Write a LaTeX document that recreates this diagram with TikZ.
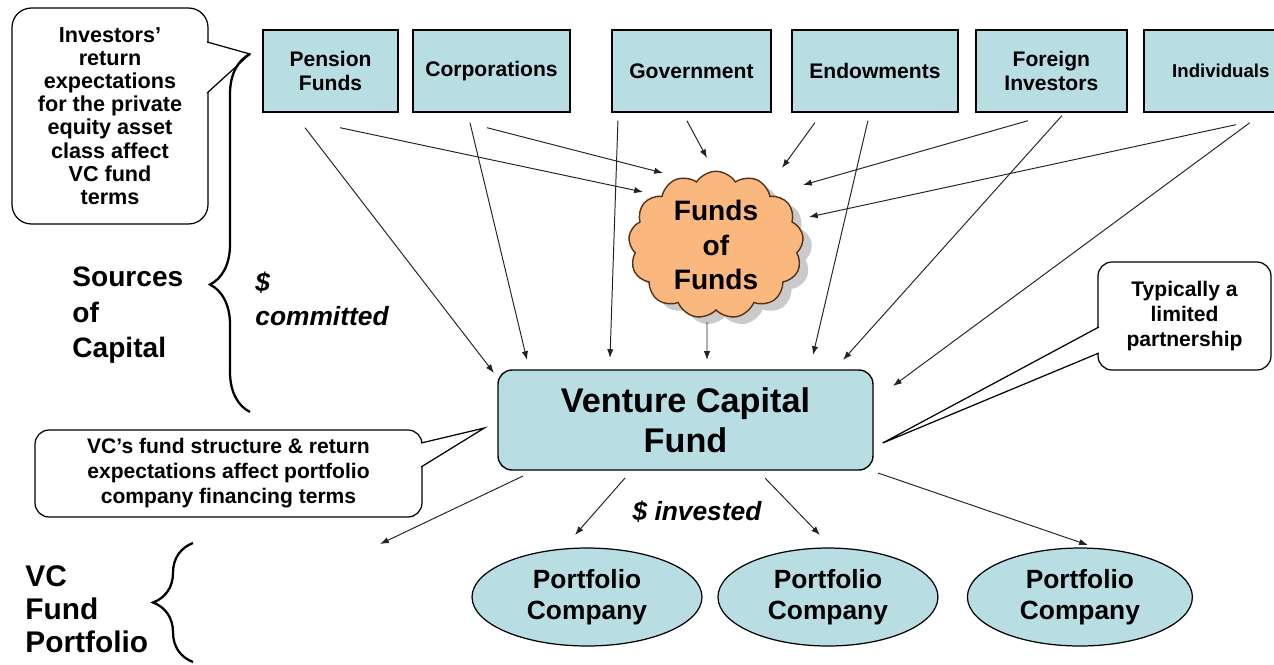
\documentclass[tikz,border=0pt]{standalone}
\usepackage{fontspec}
\setmainfont{Liberation Sans}
\usetikzlibrary{shapes.geometric, shapes.symbols, arrows.meta, decorations.pathreplacing, shadows}
\definecolor{boxblue}{RGB}{184,222,228}
\definecolor{cloudfill}{RGB}{250,184,126}
\definecolor{cloudline}{RGB}{85,50,25}
\definecolor{linegray}{RGB}{35,35,35}
\tikzstyle{source} = [rectangle, minimum height=1.64cm, inner sep=2pt, align=center, draw=black, line width=0.8pt, fill=boxblue, font={\fontsize{12}{13.6}\selectfont\bfseries}]
\tikzstyle{fund} = [rectangle, rounded corners=8pt, minimum width=7.5cm, minimum height=2cm, align=center, draw=black, line width=0.8pt, fill=boxblue, font={\fontsize{19.5}{22.7}\selectfont\bfseries}]
\tikzstyle{company} = [ellipse, minimum height=1.96cm, inner sep=1pt, align=center, draw=black, line width=0.7pt, fill=boxblue, font={\fontsize{15}{18}\selectfont\bfseries}]
\tikzstyle{fundsof} = [cloud, cloud puffs=13, cloud puff arc=115, cloud ignores aspect, minimum width=3.5cm, minimum height=2.95cm, inner sep=0pt, align=center, draw=cloudline, line width=0.8pt, fill=cloudfill, drop shadow={shadow xshift=5pt, shadow yshift=-4pt, fill=black!35, opacity=0.6}, font={\fontsize{16}{19.8}\selectfont\bfseries}]
\tikzstyle{note} = [rectangle, rounded corners=8pt, align=center, draw=black, line width=0.7pt, fill=white, font={\fontsize{12}{14.2}\selectfont\bfseries}]
\tikzstyle{pointer} = [draw=black, line width=0.7pt, fill=white, line join=miter]
\tikzstyle{heading} = [align=left, inner sep=0pt, anchor=north west, font={\fontsize{16}{20}\selectfont\bfseries}]
\tikzstyle{flow} = [align=left, inner sep=0pt, anchor=north west, font={\fontsize{15}{19.3}\selectfont\bfseries\itshape}]
\tikzstyle{bracket} = [decorate, decoration={brace, amplitude=0.8cm}, line width=1.3pt]
\tikzstyle{arrow} = [draw=linegray, line width=0.55pt, -{Latex[length=5pt,width=3.6pt]}]

\begin{document}
\begin{tikzpicture}[x=0.02cm, y=-0.02cm, node distance=1cm]
	\useasboundingbox (0,0) rectangle (1274,664);
	
	% investors along the top
	\node (pf) [source, minimum width=2.7cm] at (330.5,71) {Pension\\Funds};
	\node (corp) [source, minimum width=3.14cm, right of=pf, xshift=2.22cm] {Corporations};
	\node (gov) [source, minimum width=3.18cm, right of=corp, xshift=3cm] {Government};
	\node (endow) [source, minimum width=3.32cm, right of=gov, xshift=2.67cm] {Endowments};
	\node (foreign) [source, minimum width=3.02cm, right of=endow, xshift=2.53cm] {Foreign\\Investors};
	\node (indiv) [source, minimum width=3.08cm, right of=foreign, xshift=2.39cm, font={\fontsize{10.6}{13.6}\selectfont\bfseries}] {Individuals};
	
	\node (fof) [fundsof] at (716,245) {Funds\\of\\Funds};
	\node (vc) [fund] at (685.5,420) {Venture Capital\\Fund};
	
	\node (p1) [company, minimum width=4.6cm] at (587,597) {Portfolio\\Company};
	\node (p2) [company, minimum width=4.4cm, right of=p1, xshift=3.82cm] {Portfolio\\Company};
	\node (p3) [company, minimum width=4.5cm, right of=p2, xshift=4.04cm] {Portfolio\\Company};
	
	% side labels
	\node (src) [heading] at (72,267) {Sources\\of\\Capital};
	\node (cmt) [flow] at (255,272) {\$\\committed};
	\node (invested) [flow, anchor=center] at (697,512) {\$ invested};
	\node (vcp) [heading, font={\fontsize{17}{19}\selectfont\bfseries}] at (25,565) {VC\\Fund\\Portfolio};
	
	% callouts
	\node (expect) [note, rounded corners=11pt, minimum width=3.92cm, minimum height=4.32cm, font={\fontsize{12.3}{13.2}\selectfont\bfseries}] at (110,116) {Investors’\\return\\expectations\\for the private\\equity asset\\class affect\\VC fund\\terms};
	\node (terms) [note, minimum width=7.74cm, minimum height=1.74cm] at (228.5,473.5) {VC’s fund structure \& return\\expectations affect portfolio\\company financing terms};
	\node (lp) [note, minimum width=3.46cm, minimum height=2.16cm] at (1184.5,316) {Typically a\\limited\\partnership};
	
	\coordinate (expecttip) at (250,54);
	\draw [pointer] ([shift={(-1.5,-74)}]expect.east) -- (expecttip) -- ([shift={(-1.5,-23)}]expect.east);
	\draw [pointer] ([shift={(-1.5,-30.5)}]terms.east) -- ([shift={(-13,8)}]vc.west) -- ([shift={(-1.5,-6.5)}]terms.east);
	\draw [pointer] ([shift={(1.5,11)}]lp.west) -- ([shift={(9,23)}]vc.east) -- ([shift={(1.5,37)}]lp.west);
	
	% braces
	\coordinate (srcbot) at (250,412);
	\draw [bracket, decoration={aspect=0.356}] (srcbot) -- (expecttip);
	\coordinate (vcpbot) at (193,662);
	\coordinate (vcptop) at (193,543);
	\draw [bracket] (vcpbot) -- (vcptop);
	
	% money into the funds of funds
	\draw [arrow] ([shift={(9.5,15)}]pf.south) -- ([shift={(-73,-53)}]fof.center);
	\draw [arrow] ([shift={(-4.5,15)}]corp.south) -- ([shift={(-53,-72)}]fof.center);
	\draw [arrow] ([shift={(-4.5,8)}]gov.south) -- ([shift={(-9,-87)}]fof.center);
	\draw [arrow] ([shift={(-60,10)}]endow.south) -- ([shift={(66,-77)}]fof.center);
	\draw [arrow] ([shift={(-23.5,8)}]foreign.south) -- ([shift={(87,-60)}]fof.center);
	\draw [arrow] ([shift={(15,12)}]indiv.south) -- ([shift={(93,-28)}]fof.center);
	
	% money into the VC fund
	\draw [arrow] ([shift={(-25.5,15)}]pf.south) -- ([shift={(-191.5,-47)}]vc.center);
	\draw [arrow] ([shift={(-21.5,10)}]corp.south) -- ([shift={(-158.5,-60)}]vc.center);
	\draw [arrow] ([shift={(-73.5,8)}]gov.south) -- ([shift={(-75.5,-62)}]vc.center);
	\draw [arrow] ([shift={(-9,77)}]fof.center) -- ([shift={(21.5,-60)}]vc.center);
	\draw [arrow] ([shift={(-7,8)}]endow.south) -- ([shift={(127.5,-65)}]vc.center);
	\draw [arrow] ([shift={(10.5,3)}]foreign.south) -- ([shift={(157.5,-60)}]vc.center);
	\draw [arrow] ([shift={(29,10)}]indiv.south) -- ([shift={(207.5,-34)}]vc.center);
	
	% money into the portfolio
	\coordinate (portfolio) at (380,544);
	\draw [arrow] ([shift={(-162.5,56)}]vc.center) -- (portfolio);
	\draw [arrow] ([shift={(-60.5,58)}]vc.center) -- ([shift={(-12,-62)}]p1.center);
	\draw [arrow] ([shift={(79.5,58)}]vc.center) -- ([shift={(-8,-62)}]p2.center);
	\draw [arrow] ([shift={(192.5,53)}]vc.center) -- ([shift={(8,-52)}]p3.center);
\end{tikzpicture}
\end{document}
